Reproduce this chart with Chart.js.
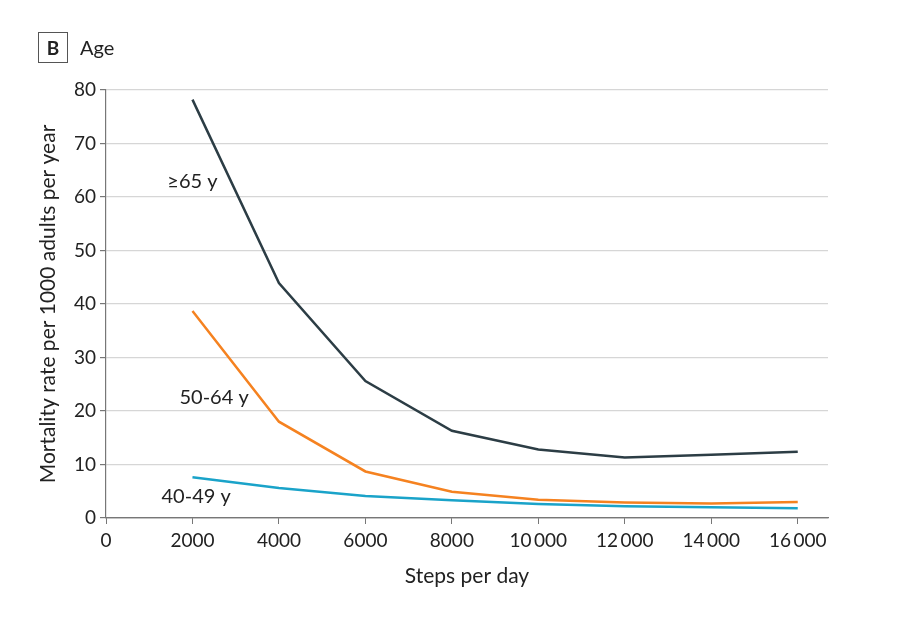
<!DOCTYPE html>
<html>
<head>
<meta charset="utf-8">
<script src="https://cdn.jsdelivr.net/npm/chart.js@4.4.1/dist/chart.umd.min.js"></script>
<style>
  body { margin: 0; background: #fff; font-family: Lato, sans-serif; }
  #wrap { position: relative; width: 903px; height: 619px; }
  #panel { position: absolute; left: 38px; top: 32px; width: 28px; height: 29px; border: 1px solid #555;
           font-weight: bold; font-size: 19px; text-align: center; line-height: 29px; color: #222; }
  #heading { position: absolute; left: 80px; top: 33px; font-size: 20px; color: #222; line-height: 28px; }
</style>
</head>
<body>
<div id="wrap">
  <div id="panel">B</div>
  <div id="heading">Age</div>
  <canvas id="chart" width="903" height="619"></canvas>
</div>
<script>
const steps = [2000, 4000, 6000, 8000, 10000, 12000, 14000, 16000];
const older = [78.2, 43.9, 25.6, 16.3, 12.8, 11.3, 11.8, 12.4];
const middle = [38.7, 18.0, 8.7, 4.9, 3.4, 2.9, 2.7, 3.0];
const younger = [7.6, 5.6, 4.1, 3.3, 2.6, 2.2, 2.0, 1.8];
const xTicks = ['0', '2000', '4000', '6000', '8000', '10\u2009000', '12\u2009000', '14\u2009000', '16\u2009000'];
const groupLabels = ['\u226565 y', '50-64 y', '40-49 y'];
// where each group label sits, in data units
const labelSpots = [[2000, 62.8], [2500, 22.6], [2085, 4.1]];

const colors = ['#2c3d45', '#f58220', '#1aa3c9'];

const toPoints = vals => steps.map((s, i) => ({ x: s, y: vals[i] }));

const lineLabels = {
    id: 'lineLabels',
    afterDatasetsDraw(chart) {
        const c = chart.ctx;
        const xs = chart.scales.x, ys = chart.scales.y;
        c.save();
        c.font = '20px Lato, sans-serif';
        c.fillStyle = '#222';
        c.textAlign = 'center';
        c.textBaseline = 'middle';
        groupLabels.forEach((t, i) => {
            c.fillText(t, xs.getPixelForValue(labelSpots[i][0]), ys.getPixelForValue(labelSpots[i][1]));
        });
        c.restore();
    }
};

const ctx = document.getElementById('chart').getContext('2d');
const mortalityChart = new Chart(ctx, {
    type: 'line',
    data: {
        datasets: [
            { label: groupLabels[0], data: toPoints(older), borderColor: colors[0] },
            { label: groupLabels[1], data: toPoints(middle), borderColor: colors[1] },
            { label: groupLabels[2], data: toPoints(younger), borderColor: colors[2] }
        ]
    },
    options: {
        responsive: false,
        animation: false,
        borderWidth: 2.5,
        pointRadius: 0,
        tension: 0,
        layout: { padding: { left: 0, top: 90, right: 75, bottom: 0 } },
        plugins: { legend: { display: false }, tooltip: { enabled: false } },
        scales: {
            x: {
                type: 'linear',
                min: 0,
                max: 16700,
                afterFit(scale) { scale.height = 101; },
                afterBuildTicks(scale) {
                    scale.ticks = xTicks.map((_, i) => ({ value: i * 2000 }));
                },
                ticks: {
                    autoSkip: false,
                    color: '#222',
                    font: { family: 'Lato', size: 19 },
                    padding: 5,
                    maxRotation: 0,
                    callback: (v) => xTicks[Math.round(v / 2000)]
                },
                grid: { drawOnChartArea: false, tickLength: 6, color: '#777' },
                border: { color: '#777', width: 1.2 },
                title: {
                    display: true,
                    text: 'Steps per day',
                    color: '#222',
                    font: { family: 'Lato', size: 21 },
                    padding: { top: 0, bottom: 30 }
                }
            },
            y: {
                min: 0,
                max: 80,
                afterFit(scale) { scale.width = 106; },
                ticks: {
                    stepSize: 10,
                    color: '#222',
                    font: { family: 'Lato', size: 19 },
                    padding: 4
                },
                grid: {
                    color: (c) => c.tick && c.tick.value === 0 ? '#777' : '#d6d6d6',
                    tickColor: '#777',
                    tickLength: 6,
                    lineWidth: 1.2
                },
                border: { color: '#777', width: 1.2 },
                title: {
                    display: true,
                    text: 'Mortality rate per 1000 adults per year',
                    color: '#222',
                    font: { family: 'Lato', size: 21 },
                    padding: { top: 36, bottom: 0 }
                }
            }
        }
    },
    plugins: [lineLabels]
});
</script>
</body>
</html>
